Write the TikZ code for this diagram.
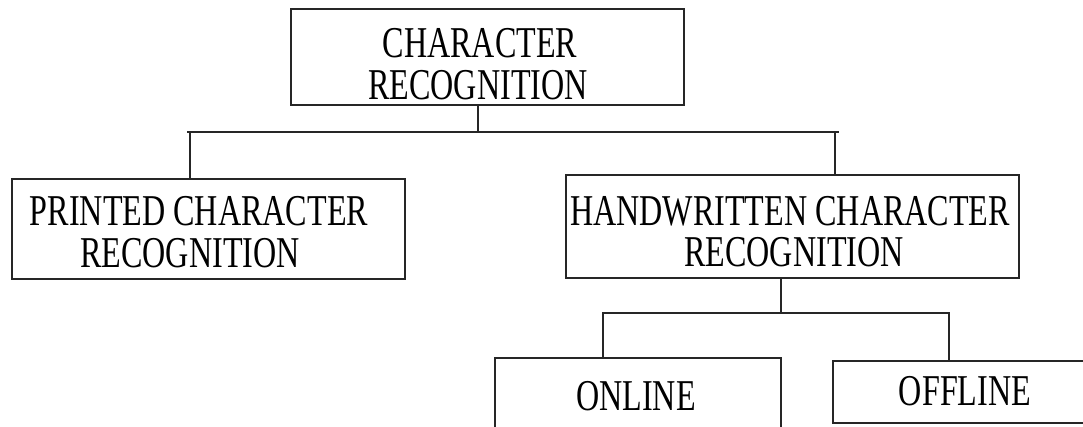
\documentclass[tikz,border=0pt]{standalone}
\usepackage{fontspec}
\newfontfamily\condserif[FakeStretch=0.73]{Liberation Serif}
\begin{document}
\begin{tikzpicture}[x=1pt,y=-1pt,
  box/.style={draw=black!85, line width=1.6pt, rectangle, inner sep=0pt},
  lbl/.style={anchor=base, inner sep=0pt, text height=30pt, text depth=1pt, font=\condserif\fontsize{44}{44}\selectfont},
  conn/.style={draw=black!85, line width=1.6pt}]
\clip (0,0) rectangle (1083,426);
\fill[white] (0,0) rectangle (1083,426);
% boxes
\node[box, minimum width=393pt, minimum height=96pt] (top) at (487.5,57) {};
\node[box, minimum width=393pt, minimum height=100pt] (left) at (208.5,229) {};
\node[box, minimum width=453pt, minimum height=103pt] (right) at (792.5,226.5) {};
\node[box, minimum width=286pt, minimum height=80pt] (online) at (638,398) {};
\node[box, minimum width=270pt, minimum height=62pt] (offline) at (968,392) {};
% labels
\node[lbl] (t1) at (480,57) {CHARACTER};
\node[lbl] (t2) at (478,99) {RECOGNITION};
\node[lbl] (l1) at (199,225) {PRINTED CHARACTER};
\node[lbl] (l2) at (190,267) {RECOGNITION};
\node[lbl] (r1) at (790,225) {HANDWRITTEN CHARACTER};
\node[lbl] (r2) at (794,266) {RECOGNITION};
\node[lbl] (o1) at (636,410) {ONLINE};
\node[lbl] (o2) at (965,405) {OFFLINE};
% junction coordinates
\coordinate (j1) at (478,132);
\coordinate (j1l) at (187,132);
\coordinate (j1r) at (839,132);
\coordinate (d1l) at (190,132);
\coordinate (d1r) at (835,132);
\coordinate (j2) at (781,313);
\coordinate (j2l) at (602,313);
\coordinate (j2r) at (950,313);
\coordinate (d2l) at (603,313);
\coordinate (d2r) at (949,313);
% connectors
\draw[conn] (top.south -| j1) -- (j1);
\draw[conn] (j1l) -- (j1r);
\draw[conn] (d1l) -- (left.north -| d1l);
\draw[conn] (d1r) -- (right.north -| d1r);
\draw[conn] (right.south -| j2) -- (j2);
\draw[conn] (j2l) -- (j2r);
\draw[conn] (d2l) -- (online.north -| d2l);
\draw[conn] (d2r) -- (offline.north -| d2r);
\end{tikzpicture}
\end{document}
